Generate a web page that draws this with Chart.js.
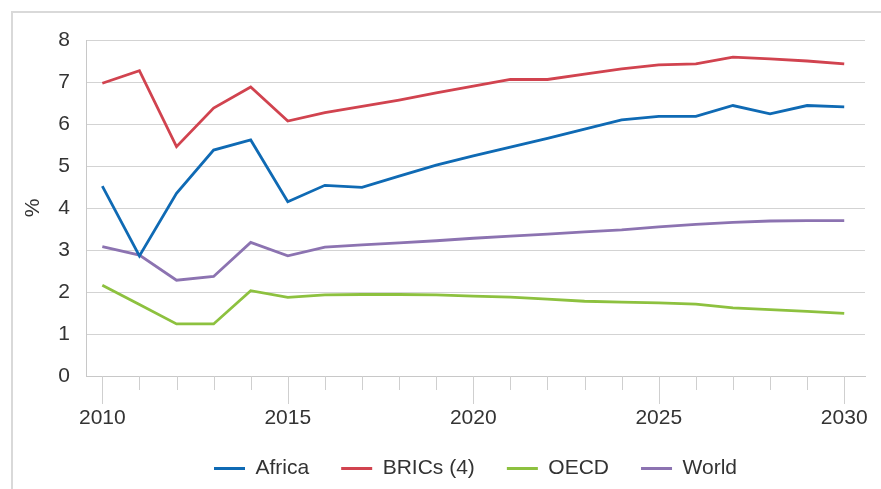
<!DOCTYPE html>
<html>
<head>
<meta charset="utf-8">
<script src="https://cdn.jsdelivr.net/npm/chart.js@4.4.1/dist/chart.umd.min.js"></script>
<style>
  html, body { margin: 0; padding: 0; background: #fff; }
  #wrap { position: relative; width: 881px; height: 489px; overflow: hidden; }
  #frame { position: absolute; left: 11px; top: 11px; width: 900px; height: 520px;
           border-left: 2px solid #d9d9d9; border-top: 2px solid #d9d9d9; }
  canvas { position: absolute; left: 0; top: 0; }
</style>
</head>
<body>
<div id="wrap">
  <div id="frame"></div>
  <canvas id="growth" width="881" height="489"></canvas>
</div>
<script>
const years = [2010, 2011, 2012, 2013, 2014, 2015, 2016, 2017, 2018, 2019, 2020,
               2021, 2022, 2023, 2024, 2025, 2026, 2027, 2028, 2029, 2030]

const africa = [4.52, 2.86, 4.35, 5.38, 5.62, 4.15, 4.54, 4.49, 4.76, 5.02, 5.24,
                5.45, 5.66, 5.88, 6.10, 6.18, 6.18, 6.44, 6.24, 6.44, 6.41]
const brics  = [6.97, 7.27, 5.46, 6.38, 6.88, 6.07, 6.27, 6.42, 6.57, 6.74, 6.90,
                7.06, 7.06, 7.19, 7.31, 7.41, 7.43, 7.59, 7.55, 7.50, 7.43]
const oecd   = [2.16, 1.70, 1.24, 1.24, 2.03, 1.87, 1.93, 1.94, 1.94, 1.93, 1.90,
                1.88, 1.83, 1.78, 1.76, 1.74, 1.71, 1.62, 1.58, 1.54, 1.49]
const world  = [3.08, 2.88, 2.28, 2.37, 3.18, 2.86, 3.07, 3.12, 3.17, 3.22, 3.28,
                3.33, 3.38, 3.43, 3.48, 3.55, 3.61, 3.66, 3.69, 3.70, 3.70]

const yTicks = [0, 1, 2, 3, 4, 5, 6, 7, 8]

const font = 'Liberation Sans, Arial, sans-serif'
const gridGrey = '#d3d3d3'
const textGrey = '#333333'

const series = (label, values, color) => ({
  label: label,
  data: years.map((y, i) => ({ x: y, y: values[i] })),
  borderColor: color,
  backgroundColor: color,
  borderWidth: 2.8,
  pointRadius: 0,
  tension: 0
})

// short ticks for every year, long ones every five years
const minorTicks = {
  id: 'minorTicks',
  afterLayout(chart) {
    // pull the legend a little closer to the axis labels
    chart.legend.top -= 6
    chart.legend.bottom -= 6
  },
  afterDraw(chart) {
    const xs = chart.scales.x
    const ctx = chart.ctx
    ctx.save()
    ctx.strokeStyle = '#cfcfcf'
    ctx.lineWidth = 1
    years.forEach(y => {
      const px = Math.round(xs.getPixelForValue(y)) + 0.5
      const len = y % 5 === 0 ? 28 : 14
      ctx.beginPath()
      ctx.moveTo(px, chart.chartArea.bottom)
      ctx.lineTo(px, chart.chartArea.bottom + len)
      ctx.stroke()
    })
    ctx.restore()
  }
}

new Chart(document.getElementById('growth'), {
  type: 'line',
  data: {
    datasets: [
      series('Africa', africa, '#0f6ab4'),
      series('BRICs (4)', brics, '#d1434f'),
      series('OECD', oecd, '#8dc13f'),
      series('World', world, '#8c73b1')
    ]
  },
  options: {
    responsive: false,
    animation: false,
    layout: { padding: { top: 40, left: 0, right: 16, bottom: 0 } },
    plugins: {
      tooltip: { enabled: false },
      legend: {
        position: 'bottom',
        fullSize: false,
        maxHeight: 57,
        labels: {
          boxWidth: 31,
          boxHeight: 3,
          padding: 32,
          color: textGrey,
          font: { family: font, size: 21 },
          generateLabels: chart => Chart.defaults.plugins.legend.labels.generateLabels(chart)
            .map(item => Object.assign(item, { lineWidth: 0 }))
        }
      }
    },
    scales: {
      x: {
        type: 'linear',
        min: 2009.56,
        max: 2030.56,
        afterBuildTicks: s => { s.ticks = years.map(v => ({ value: v })) },
        afterFit: s => { s.height = 56 },
        grid: { drawOnChartArea: false, drawTicks: true, tickLength: 28, tickColor: 'rgba(0,0,0,0)' },
        border: { color: '#c8c8c8' },
        ticks: {
          padding: 2,
          maxRotation: 0,
          autoSkip: false,
          color: textGrey,
          font: { family: font, size: 21 },
          callback: v => (v % 5 === 0 ? String(v) : '')
        }
      },
      y: {
        min: 0,
        max: 8,
        afterBuildTicks: s => { s.ticks = yTicks.map(v => ({ value: v })) },
        afterFit: s => { s.width = 86 },
        grid: { color: gridGrey, drawTicks: false },
        border: { color: '#c8c8c8' },
        ticks: { padding: 16, color: textGrey, font: { family: font, size: 21 } },
        title: {
          display: true,
          text: '%',
          color: textGrey,
          font: { family: font, size: 21 },
          padding: { top: 21, bottom: 0 }
        }
      }
    }
  },
  plugins: [minorTicks]
})
</script>
</body>
</html>
